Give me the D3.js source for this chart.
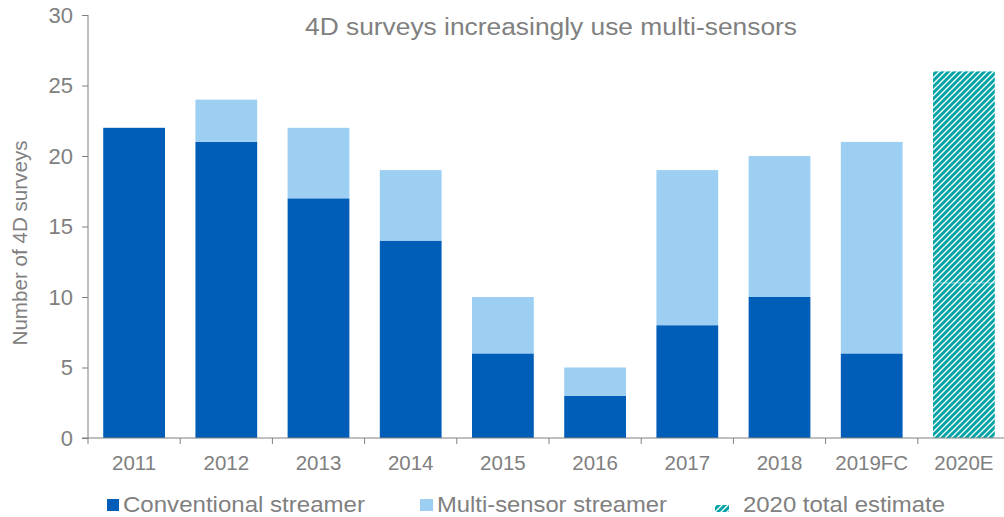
<!DOCTYPE html>
<html><head><meta charset="utf-8">
<script src="https://cdn.jsdelivr.net/npm/d3@7"></script>
<style>
html,body{margin:0;padding:0;background:#fff;}
svg{display:block;font-family:"Liberation Sans",Arial,sans-serif;}
</style></head>
<body>
<svg id="c" width="1004" height="517"></svg>
<script>
const categories = ["2011","2012","2013","2014","2015","2016","2017","2018","2019FC","2020E"];
const conventional = [22,21,17,14,6,3,8,10,6,0];
const multiSensor = [0,3,5,5,4,2,11,10,15,0];
const estimateLower = [0,0,0,0,0,0,0,0,0,11];
const estimateUpper = [0,0,0,0,0,0,0,0,0,15];
const yTicks = [0,5,10,15,20,25,30];
const seriesNames = ["Conventional streamer","Multi-sensor streamer","2020 total estimate"];
const colors = {conv:"#005EB8", multi:"#9DCFF3", hatch:"#00A3A6", text:"#808080", axis:"#808080"};

const svg = d3.select("#c");
const defs = svg.append("defs");
const pat = defs.append("pattern").attr("id","hatch").attr("patternUnits","userSpaceOnUse")
  .attr("width",6).attr("height",6);
pat.append("rect").attr("width",6).attr("height",6).attr("fill","#fff");
pat.append("path").attr("d","M-1,1 l2,-2 M0,6 l6,-6 M5,7 l2,-2")
  .attr("stroke",colors.hatch).attr("stroke-width",3);

const x = d3.scaleBand().domain(categories).range([88,1010]).paddingInner(0.33).paddingOuter(0.165);
const y = d3.scaleLinear().domain([0,30]).range([438,15]);

const data = categories.map((c,i)=>({cat:c, conv:conventional[i], multi:multiSensor[i], lo:estimateLower[i], up:estimateUpper[i]}));
const stack = d3.stack().keys(["conv","multi","lo","up"])(data);
const fills = {conv:colors.conv, multi:colors.multi, lo:"url(#hatch)", up:"url(#hatch)"};

const g = svg.append("g");
stack.forEach(layer=>{
  g.selectAll(null).data(layer.filter(d=>d[1]-d[0]>0)).join("rect")
    .attr("x",d=>x(d.data.cat)).attr("width",x.bandwidth())
    .attr("y",d=>y(d[1])).attr("height",d=>y(d[0])-y(d[1]))
    .attr("fill",fills[layer.key]);
});
// faint separator between the two hatched segments
g.selectAll(null).data(stack[2].filter(d=>d[1]-d[0]>0)).join("line")
  .attr("x1",d=>x(d.data.cat)).attr("x2",d=>x(d.data.cat)+x.bandwidth())
  .attr("y1",d=>y(d[1])).attr("y2",d=>y(d[1]))
  .attr("stroke","#fff").attr("stroke-opacity",0.5).attr("stroke-width",1);

// y axis
const ya = svg.append("g").attr("transform","translate(88,0)")
  .call(d3.axisLeft(y).tickValues(yTicks).tickSize(6).tickPadding(9));
ya.select(".domain").attr("stroke",colors.axis).attr("d","M0,15V438");
ya.selectAll(".tick line").attr("stroke",colors.axis);
ya.selectAll(".tick text").attr("fill",colors.text).attr("font-size",22).attr("font-family","Liberation Sans, Arial");

// x axis
const xa = svg.append("g").attr("transform","translate(0,438)")
  .call(d3.axisBottom(x).tickSize(0).tickPadding(17));
xa.select(".domain").attr("stroke",colors.axis).attr("d","M82,0H1010");
xa.selectAll(".tick text").attr("fill",colors.text).attr("font-size",20.5).attr("font-family","Liberation Sans, Arial");
// category boundary ticks
const bounds = categories.map(c=>x(c)-x.step()*x.paddingInner()/2);
svg.append("g").selectAll("line").data(bounds).join("line")
  .attr("x1",d=>d).attr("x2",d=>d).attr("y1",438).attr("y2",444).attr("stroke",colors.axis);

// title
svg.append("text").attr("x",551).attr("y",35).attr("text-anchor","middle")
  .attr("fill",colors.text).attr("font-size",23.5)
  .attr("textLength",492).attr("lengthAdjust","spacingAndGlyphs")
  .text("4D surveys increasingly use multi-sensors");

// y label
svg.append("text").attr("transform","translate(27,243) rotate(-90)").attr("text-anchor","middle")
  .attr("fill",colors.text).attr("font-size",20.5)
  .attr("textLength",205).attr("lengthAdjust","spacingAndGlyphs")
  .text("Number of 4D surveys");

// legend
const leg = [
  {name:seriesNames[0], fill:colors.conv, sx:107, sy:499, sw:12, sh:12, tx:123, tw:242},
  {name:seriesNames[1], fill:colors.multi, sx:420, sy:499, sw:13, sh:12, tx:437, tw:230},
  {name:seriesNames[2], fill:"url(#hatch)", sx:715, sy:505, sw:14, sh:7, tx:743, tw:202}
];
const lg = svg.append("g");
lg.selectAll("rect").data(leg).join("rect")
  .attr("x",d=>d.sx).attr("y",d=>d.sy).attr("width",d=>d.sw).attr("height",d=>d.sh).attr("fill",d=>d.fill);
lg.selectAll("text").data(leg).join("text")
  .attr("x",d=>d.tx).attr("y",512).attr("fill",colors.text).attr("font-size",21.5)
  .attr("textLength",d=>d.tw).attr("lengthAdjust","spacingAndGlyphs").text(d=>d.name);
</script>
</body></html>
